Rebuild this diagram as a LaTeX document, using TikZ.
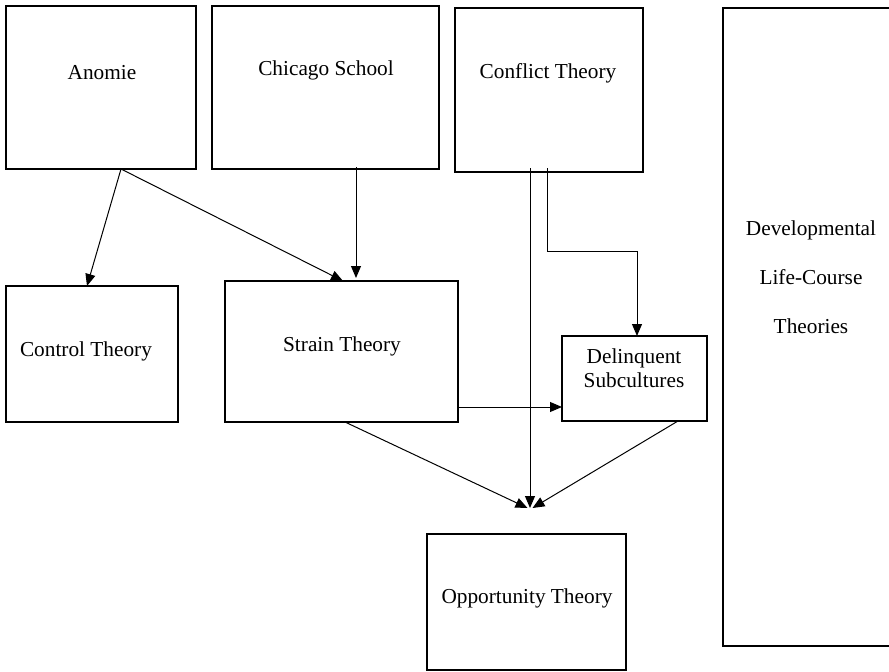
\documentclass[tikz,border=0pt]{standalone}
\usepackage{fontspec}
\setmainfont{Liberation Serif}
\usetikzlibrary{positioning,arrows.meta,calc}

\begin{document}
\begin{tikzpicture}[x=1pt,y=-1pt,
    box/.style={draw,line width=1.2pt,inner sep=0,outer sep=0},
    txt/.style={inner sep=0,outer sep=0,anchor=base,align=center,font=\fontsize{21.3}{23.5}\selectfont},
    link/.style={line width=1pt,-{Triangle[length=12pt,width=10pt]}}]

    \useasboundingbox (0,0) rectangle (889,672);
    \clip (0,0) rectangle (889,672);

    % boxes
    \node (anomie)   [box,minimum width=190,minimum height=163] at (101,87.5) {};
    \node (chicago)  [box,minimum width=227,minimum height=163] at (325.5,87.5) {};
    \node (conflict) [box,minimum width=188,minimum height=164] at (549,90) {};
    \node (devel)    [box,minimum width=175,minimum height=638] at (810.5,327) {};
    \node (control)  [box,minimum width=172,minimum height=136] at (92,354) {};
    \node (strain)   [box,minimum width=233,minimum height=141] at (341.5,351.5) {};
    \node (delinq)   [box,minimum width=145,minimum height=85] at (634.5,378.5) {};
    \node (oppor)    [box,minimum width=199,minimum height=136] at (526.5,602) {};

    % texts
    \node (anomie-t)   [txt] at (102,79) {Anomie};
    \node (chicago-t)  [txt] at (326,75.5) {Chicago School};
    \node (conflict-t) [txt] at (548,78.5) {Conflict Theory};
    \node (control-t)  [txt] at (86,356) {Control Theory};
    \node (strain-t)   [txt] at (342,351) {Strain Theory};
    \node (delinq-t)   [txt] at (634,387) {Delinquent\\Subcultures};
    \node (oppor-t)    [txt] at (527,603.5) {Opportunity Theory};
    \node (devel-a)    [txt] at (811,235) {Developmental};
    \node (devel-b)    [txt] at (811,284) {Life-Course};
    \node (devel-c)    [txt] at (811,333) {Theories};

    \coordinate (meet) at ($(oppor.north)+(3.5,-26)$);

    % arrows
    \draw[link] ([xshift=20pt]anomie.south) -- ([xshift=-5pt]control.north);
    \draw[link] ([xshift=20pt]anomie.south) -- ([xshift=1.5pt]strain.north);
    \draw[link] ([xshift=30.5pt,yshift=2pt]chicago.south) -- ([xshift=14.5pt,yshift=3pt]strain.north);
    \draw[link] ([xshift=-19pt,yshift=4pt]conflict.south) -- (meet);
    \draw[link] ([xshift=-2pt,yshift=4pt]conflict.south) -- ++(0,83) -| ([xshift=2.5pt]delinq.north);
    \draw[link] ([yshift=-55.5pt]strain.east) -- ([yshift=-28.5pt]delinq.west);
    \draw[link] ([xshift=3.5pt]strain.south) -- ([xshift=-2.5pt]meet);
    \draw[link] ([xshift=43.5pt]delinq.south) -- ([xshift=2.5pt]meet);

\end{tikzpicture}
\end{document}
